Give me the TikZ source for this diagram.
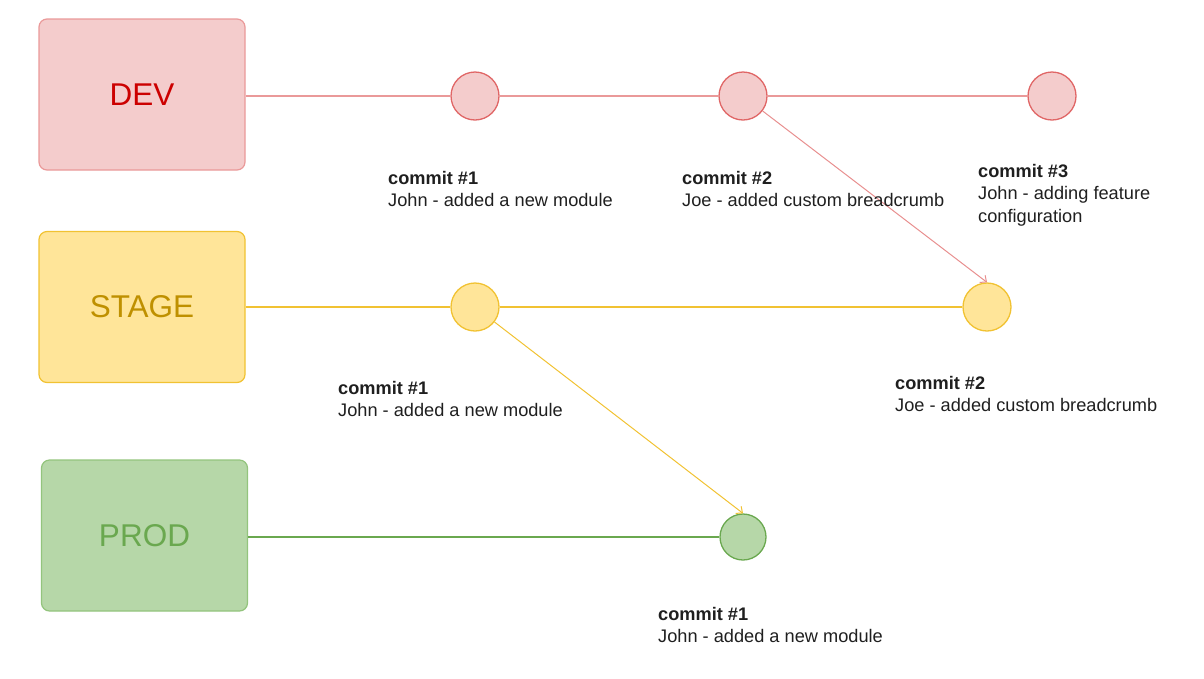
\documentclass[tikz,border=0pt]{standalone}
\usepackage{fontspec}
\setmainfont{Liberation Sans}
\usetikzlibrary{arrows.meta}
\definecolor{devfill}{HTML}{F4CCCC}
\definecolor{devborder}{HTML}{EA9999}
\definecolor{devcirc}{HTML}{E06666}
\definecolor{devtext}{HTML}{CC0000}
\definecolor{stfill}{HTML}{FFE599}
\definecolor{stborder}{HTML}{F1C232}
\definecolor{sttext}{HTML}{BF9000}
\definecolor{prfill}{HTML}{B6D7A8}
\definecolor{prborder}{HTML}{93C47D}
\definecolor{prtext}{HTML}{6AA84F}
\definecolor{txt}{HTML}{1F1F1F}
\begin{document}
\begin{tikzpicture}[x=1pt,y=-1pt,
  env/.style={rounded corners=8pt, minimum width=206pt, minimum height=151pt, line width=1.2pt, inner sep=0, font=\fontsize{31.5}{36}\selectfont},
  commitnode/.style={circle, minimum size=48pt, inner sep=0, line width=1.3pt},
  lbl/.style={anchor=north west, inner sep=0, align=left, text=txt, font=\fontsize{18.2}{22.5}\selectfont},
  mainline/.style={line width=2.3pt},
  merge/.style={line width=1pt, -{Straight Barb[length=5pt,width=9pt]}}]
\useasboundingbox (0,0) rectangle (1204,678);
% environment boxes
\node[env, fill=devfill, draw=devborder, text=devtext] (dev) at (142,94.5) {DEV};
\node[env, fill=stfill, draw=stborder, text=sttext] (stage) at (142,307) {STAGE};
\node[env, fill=prfill, draw=prborder, text=prtext] (prod) at (144.5,535.5) {PROD};
% commits
\node[commitnode, fill=devfill, draw=devcirc] (d1) at (475,96) {};
\node[commitnode, fill=devfill, draw=devcirc] (d2) at (743,96) {};
\node[commitnode, fill=devfill, draw=devcirc] (d3) at (1052,96) {};
\node[commitnode, fill=stfill, draw=stborder] (s1) at (475,307) {};
\node[commitnode, fill=stfill, draw=stborder] (s2) at (987,307) {};
\node[commitnode, fill=prfill, draw=prtext, minimum size=46pt] (p1) at (743,537) {};
% branch lines
\draw[mainline, devborder] (dev.east |- d1) -- (d1) -- (d2) -- (d3);
\draw[mainline, stborder] (stage) -- (s1) -- (s2);
\draw[mainline, prtext] (prod.east |- p1) -- (p1);
% merges
\draw[merge, devborder!80!devcirc] (d2) -- (s2.north);
\draw[merge, stborder] (s1) -- (p1.north);
% labels
\node[lbl] (ld1) at (388,171) {\textbf{commit \#1}\\John - added a new module};
\node[lbl] (ld2) at (682,171) {\textbf{commit \#2}\\Joe - added custom breadcrumb};
\node[lbl] (ld3) at (978,164) {\textbf{commit \#3}\\John - adding feature\\configuration};
\node[lbl] (ls1) at (338,381) {\textbf{commit \#1}\\John - added a new module};
\node[lbl] (ls2) at (895,376) {\textbf{commit \#2}\\Joe - added custom breadcrumb};
\node[lbl] (lp1) at (658,607) {\textbf{commit \#1}\\John - added a new module};
\end{tikzpicture}
\end{document}
